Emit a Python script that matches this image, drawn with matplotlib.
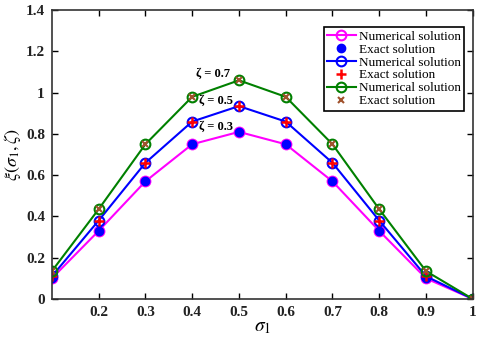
import numpy as np
import matplotlib.pyplot as plt

plt.rcParams['font.family'] = ['Liberation Serif', 'DejaVu Serif']
plt.rcParams['mathtext.fontset'] = 'stix'

sigma = [0.1, 0.2, 0.3, 0.4, 0.5, 0.6, 0.7, 0.8, 0.9, 1.0]
xi_03 = [0.10, 0.33, 0.57, 0.75, 0.81, 0.75, 0.57, 0.33, 0.10, 0.0]
xi_05 = [0.11, 0.38, 0.66, 0.86, 0.935, 0.86, 0.66, 0.38, 0.11, 0.0]
xi_07 = [0.135, 0.435, 0.75, 0.98, 1.06, 0.98, 0.75, 0.435, 0.135, 0.0]
zeta_labels = ['\u03b6 = 0.3', '\u03b6 = 0.5', '\u03b6 = 0.7']

fig = plt.figure(figsize=(4.8, 3.39), dpi=100)
ax = fig.add_axes([0.108, 0.118, 0.877, 0.852])

ax.plot(sigma, xi_03, '-o', color='#ff00ff', lw=1.5, ms=7, mfc='none', mew=1.5, label='Numerical solution')
ax.plot(sigma, xi_03, 'o', color='blue', ms=6, ls='none', label='Exact solution')
ax.plot(sigma, xi_05, '-o', color='blue', lw=1.5, ms=7, mfc='none', mew=1.5, label='Numerical solution')
ax.plot(sigma, xi_05, '+', color='red', ms=7, mew=1.8, ls='none', label='Exact solution')
ax.plot(sigma, xi_07, '-o', color='green', lw=1.5, ms=7, mfc='none', mew=1.5, label='Numerical solution')
ax.plot(sigma, xi_07, 'x', color='#a0522d', ms=4, mew=1.5, ls='none', label='Exact solution')

ax.text(0.445, 1.09, zeta_labels[2], fontsize=9, fontweight='bold', ha='center', va='center')
ax.text(0.45, 0.96, zeta_labels[1], fontsize=9, fontweight='bold', ha='center', va='center')
ax.text(0.45, 0.835, zeta_labels[0], fontsize=9, fontweight='bold', ha='center', va='center')

ax.set_xlim(0.1, 1.0)
ax.set_ylim(0, 1.4)
ax.set_xticks([0.2, 0.3, 0.4, 0.5, 0.6, 0.7, 0.8, 0.9, 1.0])
ax.set_xticklabels(['0.2', '0.3', '0.4', '0.5', '0.6', '0.7', '0.8', '0.9', '1'])
ax.set_yticks([0, 0.2, 0.4, 0.6, 0.8, 1.0, 1.2, 1.4])
ax.set_yticklabels(['0', '0.2', '0.4', '0.6', '0.8', '1', '1.2', '1.4'])
ax.tick_params(direction='in', top=True, right=True, labelsize=11, width=1, length=4, pad=5)
for lab in ax.get_xticklabels() + ax.get_yticklabels():
    lab.set_fontweight('bold')
    lab.set_color('#222222')
for s in ax.spines.values():
    s.set_linewidth(1.2)
    s.set_color('#333333')

ax.set_xlabel(r'$\sigma_1$', fontsize=14, labelpad=0)
ax.set_ylabel(r'$\xi(\sigma_1,\zeta)$', fontsize=13, labelpad=2)

leg = ax.legend(loc='upper right', bbox_to_anchor=(0.985, 0.95), fontsize=9.5, fancybox=False,
                framealpha=1, edgecolor='black', handlelength=2.2, labelspacing=0.05,
                borderpad=0.25, handletextpad=0.2, borderaxespad=0.2)
leg.get_frame().set_linewidth(1.2)

plt.savefig('out.png', dpi=100)
